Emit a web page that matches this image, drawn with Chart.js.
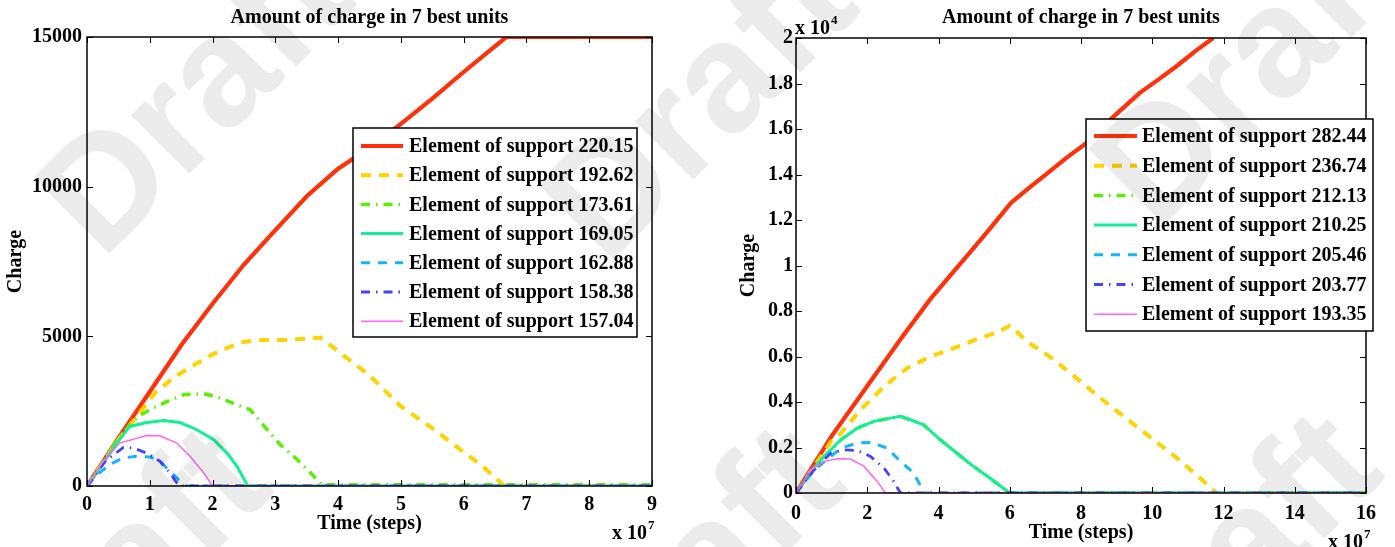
<!DOCTYPE html>
<html>
<head>
<meta charset="utf-8">
<script src="https://cdn.jsdelivr.net/npm/chart.js@4.4.1/dist/chart.umd.min.js"></script>
<style>
html, body { margin: 0; padding: 0; background: #fff; }
#wrap { position: relative; width: 1395px; height: 547px; overflow: hidden; }
#c1 { position: absolute; left: 0; top: 0; }
#c2 { position: absolute; left: 700px; top: 0; }
</style>
</head>
<body>
<div id="wrap">
  <canvas id="c1" width="700" height="547"></canvas>
  <canvas id="c2" width="695" height="547"></canvas>
</div>
<script>
// x in units of 1e7 steps, y = charge
// left panel
const leftLabels = ['Element of support 220.15', 'Element of support 192.62', 'Element of support 173.61',
  'Element of support 169.05', 'Element of support 162.88', 'Element of support 158.38', 'Element of support 157.04'];
const left220 = [[0,0],[0.5,1600],[1,3150],[1.5,4700],[2,6090],[2.5,7400],[3,8550],[3.5,9680],[4,10600],
  [4.5,11300],[5,12100],[5.5,12940],[6,13830],[6.4,14520],[6.68,15000],[9,15000]];
const left192 = [[0,0],[0.5,1550],[0.8,2350],[1.1,3150],[1.4,3650],[1.65,3970],[2,4400],[2.45,4800],[2.7,4870],
  [3.1,4880],[3.5,4920],[3.72,4960],[4,4500],[4.5,3700],[5,2660],[5.5,1930],[6,1130],[6.3,660],[6.65,0],[9,0]];
const left173 = [[0,0],[0.5,1600],[0.8,2300],[1,2550],[1.25,2800],[1.55,3060],[1.9,3070],[2.15,2920],[2.4,2700],
  [2.6,2550],[2.87,1880],[3.08,1380],[3.35,880],[3.56,440],[3.74,40],[9,40]];
const left169 = [[0,0],[0.3,900],[0.5,1500],[0.68,1990],[0.95,2120],[1.22,2185],[1.48,2120],[1.75,1880],
  [2.02,1545],[2.23,1100],[2.39,660],[2.56,0],[9,0]];
const left162 = [[0,0],[0.15,350],[0.36,720],[0.58,940],[0.79,990],[1,970],[1.16,830],[1.32,500],[1.48,165],
  [1.58,0],[9,0]];
const left158 = [[0,0],[0.3,850],[0.58,1290],[0.74,1270],[0.95,1100],[1.16,830],[1.32,440],[1.43,110],[1.5,0],[9,0]];
const left157 = [[0,0],[0.25,800],[0.52,1435],[0.95,1690],[1.16,1680],[1.43,1435],[1.64,990],[1.86,440],[2,0],[9,0]];

// right panel
const rightLabels = ['Element of support 282.44', 'Element of support 236.74', 'Element of support 212.13',
  'Element of support 210.25', 'Element of support 205.46', 'Element of support 203.77', 'Element of support 193.35'];
const right282 = [[0,0],[1,2500],[2,4700],[3,6900],[3.77,8520],[4.28,9470],[4.8,10420],[5.31,11370],[5.73,12170],
  [6.04,12760],[6.55,13420],[7.07,14070],[7.59,14730],[8.1,15320],[8.62,16120],[9.13,16850],[9.65,17590],
  [10.17,18170],[10.68,18760],[11.2,19410],[11.71,20000]];
const right236 = [[0,0],[1,2300],[1.26,2630],[1.81,3650],[2.47,4680],[3.12,5490],[3.77,6000],[4.42,6360],
  [5.07,6760],[5.63,7050],[6,7350],[6.56,6580],[7.12,6000],[7.77,5190],[8.49,4240],[9.23,3330],[9.98,2410],
  [10.72,1500],[11.34,660],[11.8,0],[16,0]];
const right212 = [[0,0],[0.4,900],[0.79,1610],[1.26,2340],[1.72,2850],[2.19,3150],[2.65,3290],[2.93,3370],
  [3.21,3220],[3.58,3000],[4.05,2340],[4.51,1760],[4.98,1170],[5.44,660],[5.81,220],[6,0],[16,0]];
const right210 = [[0,0],[0.4,900],[0.79,1610],[1.26,2340],[1.72,2850],[2.19,3150],[2.65,3290],[2.93,3370],
  [3.21,3220],[3.58,3000],[4.05,2340],[4.51,1760],[4.98,1170],[5.44,660],[5.81,220],[6,0],[16,0]];
const right205 = [[0,0],[0.5,1000],[1.26,1975],[1.72,2195],[2.09,2225],[2.56,1975],[2.93,1390],[3.3,880],
  [3.53,220],[3.6,0],[16,0]];
const right203 = [[0,0],[0.5,1000],[0.98,1756],[1.35,1900],[1.72,1870],[2.09,1610],[2.47,1100],[2.74,510],
  [2.93,0],[16,0]];
const right193 = [[0,0],[0.42,1020],[0.79,1390],[1.16,1510],[1.53,1490],[1.91,1170],[2.28,510],[2.51,0],[16,0]];

const leftXTicks = [0, 9, 1];
const leftYTicks = [0, 15000, 5000];
const rightXTicks = [0, 16, 2];
const rightYTicks = [0, 20000, 2000];

const SERIF = "'Liberation Serif', 'Times New Roman', serif";

// MATLAB-ish line styles, in plot order
const styles = [
  { color: '#ff300a', width: 4.2, dash: [] },
  { color: '#ffd200', width: 4, dash: [10, 8] },
  { color: '#5af000', width: 3.5, dash: [9, 6, 1.5, 6] },
  { color: '#14ee96', width: 3, dash: [] },
  { color: '#14b4ff', width: 3, dash: [9, 8] },
  { color: '#4444ff', width: 2.8, dash: [9, 6, 1.5, 6] },
  { color: '#ff66ee', width: 1.5, dash: [] }
];

// "Draft" stamp over the page, page coords of each word's start
const stampWords = [[102, 261], [606, 267], [1157, 232], [19, 748], [593, 746], [1130, 733]];

function makeDatasets(labels, series) {
  return series.map((pts, i) => ({
    label: labels[i],
    data: pts.map(p => ({ x: p[0], y: p[1] })),
    borderColor: styles[i].color,
    borderWidth: styles[i].width,
    borderDash: styles[i].dash,
    borderCapStyle: 'butt',
    pointRadius: 0,
    fill: false,
    tension: 0,
    order: series.length - i
  }));
}

// box, inward ticks, legend, title and exponent labels
const matlabFrame = {
  id: 'matlabFrame',
  afterDatasetsDraw(chart, args, o) {
    const { ctx, chartArea: a, scales } = chart;
    ctx.save();
    ctx.setLineDash([]);
    ctx.strokeStyle = '#000';
    ctx.lineWidth = 1.5;
    ctx.strokeRect(a.left, a.top, a.right - a.left, a.bottom - a.top);
    ctx.lineWidth = 1;
    ctx.beginPath();
    scales.x.ticks.forEach(t => {
      const px = Math.round(scales.x.getPixelForValue(t.value)) + 0.5;
      ctx.moveTo(px, a.bottom); ctx.lineTo(px, a.bottom - 6);
      ctx.moveTo(px, a.top); ctx.lineTo(px, a.top + 6);
    });
    scales.y.ticks.forEach(t => {
      const py = Math.round(scales.y.getPixelForValue(t.value)) + 0.5;
      ctx.moveTo(a.left, py); ctx.lineTo(a.left + 6, py);
      ctx.moveTo(a.right, py); ctx.lineTo(a.right - 6, py);
    });
    ctx.stroke();

    // legend
    const L = o.legend;
    ctx.fillStyle = '#fff';
    ctx.fillRect(L.left, L.top, L.right - L.left, L.bottom - L.top);
    ctx.lineWidth = 1.5;
    ctx.strokeStyle = '#000';
    ctx.strokeRect(L.left, L.top, L.right - L.left, L.bottom - L.top);
    ctx.font = 'bold 20px ' + SERIF;
    ctx.textAlign = 'left';
    ctx.textBaseline = 'middle';
    chart.data.datasets.forEach((ds, i) => {
      const y = L.row0 + i * L.rowGap;
      ctx.beginPath();
      ctx.setLineDash(ds.borderDash);
      ctx.lineWidth = ds.borderWidth;
      ctx.strokeStyle = ds.borderColor;
      ctx.lineCap = 'butt';
      ctx.moveTo(L.line0, y); ctx.lineTo(L.line1, y);
      ctx.stroke();
      ctx.setLineDash([]);
      ctx.fillStyle = '#000';
      ctx.fillText(ds.label, L.text, y + 1);
    });

    // title
    ctx.fillStyle = '#000';
    ctx.font = 'bold 20px ' + SERIF;
    ctx.textAlign = 'center';
    ctx.fillText(o.title, (a.left + a.right) / 2, o.titleY);

    // x 10^n labels
    ctx.textAlign = 'left';
    ctx.textBaseline = 'alphabetic';
    o.exps.forEach(e => {
      ctx.font = 'bold 20px ' + SERIF;
      ctx.fillText(e.text, e.x, e.y);
      const w = ctx.measureText(e.text).width;
      ctx.font = 'bold 13px ' + SERIF;
      ctx.fillText(e.sup, e.x + w + 1, e.y - 10);
    });
    ctx.restore();
  },
  afterDraw(chart, args, o) {
    const ctx = chart.ctx;
    ctx.save();
    ctx.globalCompositeOperation = 'multiply';
    ctx.fillStyle = '#ebebeb';
    ctx.font = "bold 156px 'Liberation Sans', Arial, sans-serif";
    ctx.textAlign = 'left';
    ctx.textBaseline = 'alphabetic';
    stampWords.forEach(([px, py]) => {
      ctx.save();
      ctx.translate(px - o.pageLeft, py);
      ctx.rotate(-Math.PI / 4);
      ctx.fillText('Draft', 0, 0);
      ctx.restore();
    });
    ctx.restore();
  }
};

function makeChart(id, labels, series, xt, yt, geo) {
  const tickFont = { family: SERIF, size: 20, weight: 'bold' };
  return new Chart(document.getElementById(id), {
    type: 'line',
    data: { datasets: makeDatasets(labels, series) },
    plugins: [matlabFrame],
    options: {
      responsive: false,
      animation: false,
      events: [],
      layout: { padding: { top: geo.top, right: geo.right, left: 0, bottom: 0 } },
      plugins: {
        legend: { display: false },
        title: { display: false },
        tooltip: { enabled: false },
        matlabFrame: geo.frame
      },
      scales: {
        x: {
          type: 'linear',
          min: xt[0], max: xt[1],
          grid: { display: false, drawTicks: false },
          border: { display: false },
          ticks: { stepSize: xt[2], color: '#000', font: tickFont, padding: geo.xPad, maxRotation: 0 },
          title: { display: true, text: 'Time (steps)', color: '#000', font: tickFont,
                   padding: { top: 0, bottom: geo.xTitlePad } },
          afterFit: s => { s.height = geo.xHeight; }
        },
        y: {
          type: 'linear',
          min: yt[0], max: yt[1],
          grid: { display: false, drawTicks: false },
          border: { display: false },
          ticks: { stepSize: yt[2], color: '#000', font: tickFont, padding: geo.yPad,
                   callback: geo.yFormat },
          title: { display: true, text: 'Charge', color: '#000', font: tickFont,
                   padding: { top: geo.yTitlePad, bottom: 0 } },
          afterFit: s => { s.width = geo.yWidth; }
        }
      }
    }
  });
}

makeChart('c1', leftLabels, [left220, left192, left173, left169, left162, left158, left157],
  leftXTicks, leftYTicks, {
    top: 37, right: 48, xHeight: 61, yWidth: 87, xPad: 7, yPad: 5, xTitlePad: 11, yTitlePad: 4,
    yFormat: v => String(v),
    frame: {
      pageLeft: 0,
      title: 'Amount of charge in 7 best units', titleY: 18,
      legend: { left: 353, right: 637, top: 128, bottom: 337, row0: 146, rowGap: 29.2, line0: 361, line1: 403, text: 409 },
      exps: [{ text: 'x 10', sup: '7', x: 612, y: 539 }]
    }
  });

makeChart('c2', rightLabels, [right282, right236, right212, right210, right205, right203, right193],
  rightXTicks, rightYTicks, {
    top: 38, right: 29, xHeight: 54, yWidth: 96, xPad: 9, yPad: 3, xTitlePad: 2, yTitlePad: 37,
    yFormat: v => String(parseFloat((v / 10000).toFixed(1))),
    frame: {
      pageLeft: 700,
      title: 'Amount of charge in 7 best units', titleY: 18,
      legend: { left: 386, right: 673, top: 119, bottom: 331, row0: 136, rowGap: 29.7, line0: 394, line1: 437, text: 442 },
      exps: [{ text: 'x 10', sup: '4', x: 95, y: 34 }, { text: 'x 10', sup: '7', x: 628, y: 548 }]
    }
  });
</script>
</body>
</html>
